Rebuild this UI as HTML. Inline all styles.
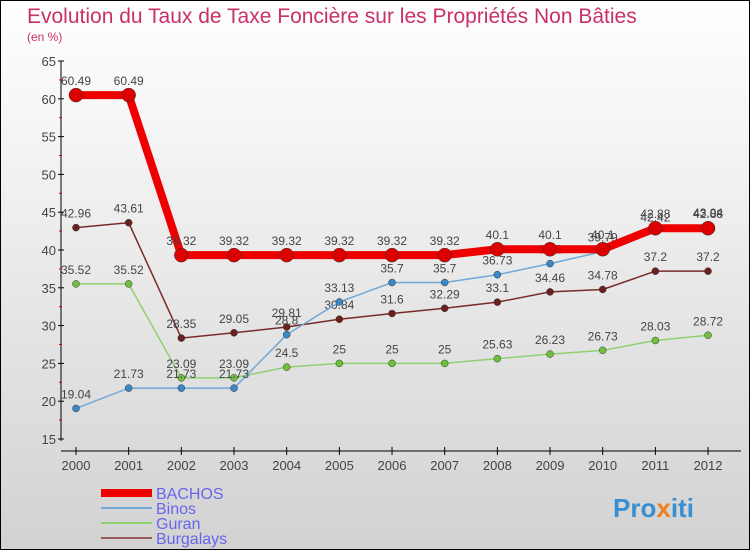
<!DOCTYPE html>
<html><head><meta charset="utf-8"><style>
body{margin:0}
#c{width:748px;height:548px;border:1px solid #000;background:linear-gradient(#fff,#f2f2f2 30%,#d2d2d2);position:relative;font-family:"Liberation Sans",sans-serif}
text{font-family:"Liberation Sans",sans-serif}
</style></head><body>
<div id="c">
<svg id="s" width="748" height="548">
<text x="26" y="22" font-size="21" fill="#c8306a">Evolution du Taux de Taxe Foncière sur les Propriétés Non Bâties</text>
<text x="26" y="40" font-size="12" fill="#c8306a">(en %)</text>
<text x="612" y="516" font-size="26" font-weight="bold" fill="#3a8fd0">Pro<tspan fill="#f08020">x</tspan>iti</text>
</svg></div>
<script>
const years=["2000","2001","2002","2003","2004","2005","2006","2007","2008","2009","2010","2011","2012"];
const yTicks=[15,20,25,30,35,40,45,50,55,60,65];
const bachos=[60.49,60.49,39.32,39.32,39.32,39.32,39.32,39.32,40.1,40.1,40.1,42.88,42.88];
const binos=[19.04,21.73,21.73,21.73,28.8,33.13,35.7,35.7,36.73,38.2,39.79,42.42,43.04];
const guran=[35.52,35.52,23.09,23.09,24.5,25,25,25,25.63,26.23,26.73,28.03,28.72];
const burgalays=[42.96,43.61,28.35,29.05,29.81,30.84,31.6,32.29,33.1,34.46,34.78,37.2,37.2];
const names=["BACHOS","Binos","Guran","Burgalays"];
const s=document.getElementById('s'),NS="http://www.w3.org/2000/svg";
function X(i){return 75+i*52.67}
function Y(v){return 438-(v-15)*7.56}
function el(t,a,p){const e=document.createElementNS(NS,t);for(const k in a)e.setAttribute(k,a[k]);(p||s).appendChild(e);return e}
let ax=el('line',{x1:60,y1:60,x2:60,y2:440,stroke:'#000'});


let xa=el('line',{x1:60,y1:450,x2:740,y2:450,stroke:'#000'});


yTicks.forEach(v=>{el('line',{x1:57,x2:63,y1:Y(v),y2:Y(v),stroke:'#000'});
 if(v<65)el('line',{x1:58,x2:61,y1:Y(v+2.5),y2:Y(v+2.5),stroke:'#d00'});
 const t=el('text',{x:55,y:Y(v)+5,'text-anchor':'end','font-size':13,fill:'#444'});t.textContent=v;
 
 });
years.forEach((y,i)=>{el('line',{x1:X(i),x2:X(i),y1:446,y2:454,stroke:'#000'});
 const t=el('text',{x:X(i),y:469,'text-anchor':'middle','font-size':13,fill:'#444'});t.textContent=y;
 
 });
const series=[[burgalays,'#7a2a2a','#6b1f1f',1.5,3.5],[guran,'#90d070','#70c040',1.5,3.5],[binos,'#70a8d8','#3a88c8',1.5,3.5],[bachos,'#ee0000','#dd0000',8,7]];
series.forEach(([d,c,f,w,r],k)=>{
 const g=el('g',{});
 
 
 el('polyline',{points:d.map((v,i)=>X(i)+','+Y(v)).join(' '),fill:'none',stroke:c,'stroke-width':w},g);
 d.forEach((v,i)=>{const p=el('circle',{cx:X(i),cy:Y(v),r:r,fill:f,stroke:'#333','stroke-width':0.5},g);
  
  
  const t=el('text',{x:X(i),y:Y(v)-10,'text-anchor':'middle','font-size':12,fill:'#444'},g);t.textContent=v;
  
  });
});
const lc=['#ee0000','#70a8d8','#90d070','#9a5a5a'],lw=[8,2,2,2];
names.forEach((n,i)=>{const y=492+i*15;
 const g=el('g',{});
 
 
 el('line',{x1:100,x2:151,y1:y,y2:y,stroke:lc[i],'stroke-width':lw[i]},g);
 const t=el('text',{x:155,y:y+6,'font-size':16,fill:'#6666ee'},g);t.textContent=n;});
</script></body></html>
